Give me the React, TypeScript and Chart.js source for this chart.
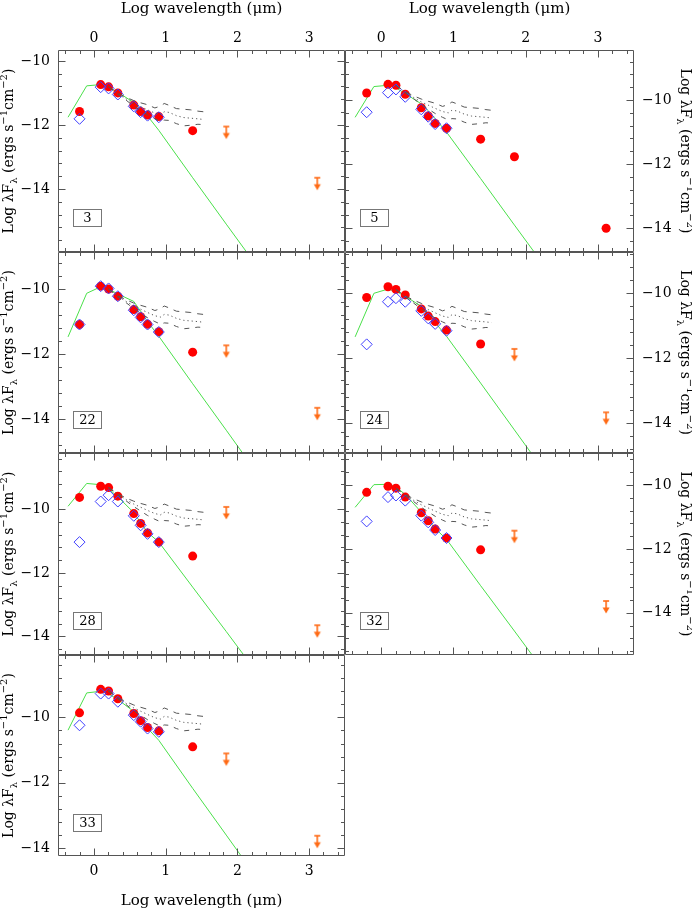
import React, { useEffect, useRef } from "react";
import { Chart, registerables } from "chart.js";

Chart.register(...registerables);

const FIG_W = 692;
const FIG_H = 909;
const SERIF = "'DejaVu Serif', 'Liberation Serif', serif";
const ORANGE = "#ff6a14";

// ---- axis tick labels ----
const X_TICKS = [0, 1, 2, 3];
const Y_TICKS = [-14, -12, -10];

// ---- wavelengths (log micron) ----
const BAND_X = [-0.2, 0.095, 0.205, 0.334, 0.556, 0.652, 0.748, 0.905, 1.377];
const DIAMOND_X = [-0.2, 0.095, 0.205, 0.334, 0.556, 0.652, 0.748, 0.905];
const FAR_X = [1.845, 3.114];
const MODEL_X = [-0.36, -0.1, 0.095, 0.205, 0.334, 0.556, 0.652, 0.748, 0.905, 1.377, 1.845, 3.114];

// ---- Taurus median SED and quartiles (relative to H-band normalisation) ----
const TAURUS_X = [0.205, 0.334, 0.45, 0.556, 0.652, 0.748, 0.85, 0.93, 0.98, 1.05, 1.15, 1.25, 1.35, 1.45, 1.53];
const TAURUS_UPPER = [0, -0.2, -0.33, -0.43, -0.5, -0.56, -0.66, -0.6, -0.52, -0.58, -0.68, -0.7, -0.72, -0.76, -0.78];
const TAURUS_MEDIAN = [0, -0.22, -0.38, -0.52, -0.62, -0.72, -0.82, -0.86, -0.78, -0.8, -0.9, -0.96, -0.98, -1.0, -1.02];
const TAURUS_LOWER = [0, -0.24, -0.42, -0.6, -0.74, -0.88, -1.0, -1.08, -1.04, -1.05, -1.15, -1.22, -1.2, -1.17, -1.18];

// ---- panel 3 ----
const P3_RED = [-11.58, -10.74, -10.81, -11.0, -11.38, -11.58, -11.69, -11.74, -12.18];
const P3_BLUE = [-11.81, -10.82, -10.86, -11.05, -11.42, -11.6, -11.71, -11.76];
const P3_LIMIT = [-12.05, -13.65];
const P3_MODEL = [-11.76, -10.78, -10.74, -10.82, -10.98, -11.3, -11.5, -11.72, -12.17, -13.65, -15.1, -19.0];
const P3_NORM = -10.81;

// ---- panel 5 ----
const P5_RED = [-9.78, -9.51, -9.54, -9.82, -10.24, -10.5, -10.73, -10.88, -11.22];
const P5_BLUE = [-10.38, -9.77, -9.67, -9.9, -10.29, -10.52, -10.75, -10.88];
const P5_FAR = [-11.77, -14.0];
const P5_MODEL = [-10.54, -9.58, -9.54, -9.62, -9.8, -10.12, -10.33, -10.58, -11.0, -12.45, -13.9, -17.8];
const P5_NORM = -9.54;

// ---- panel 22 ----
const P22_RED = [-11.09, -9.91, -10.0, -10.22, -10.63, -10.85, -11.08, -11.31, -11.94];
const P22_BLUE = [-11.09, -9.91, -9.98, -10.22, -10.65, -10.87, -11.09, -11.32];
const P22_LIMIT = [-11.73, -13.65];
const P22_MODEL = [-11.47, -10.13, -9.93, -10.0, -10.15, -10.38, -10.68, -11.0, -11.45, -12.91, -14.34, -18.24];
const P22_NORM = -10.0;

// ---- panel 24 ----
const P24_RED = [-10.13, -9.8, -9.88, -10.05, -10.48, -10.7, -10.87, -11.13, -11.56];
const P24_BLUE = [-11.57, -10.26, -10.15, -10.26, -10.54, -10.77, -10.94, -11.15];
const P24_LIMIT = [-11.71, -13.66];
const P24_MODEL = [-11.34, -10.0, -9.87, -9.94, -10.09, -10.4, -10.62, -10.9, -11.32, -12.76, -14.2, -18.1];
const P24_NORM = -9.88;

// ---- panel 28 ----
const P28_RED = [-9.62, -9.27, -9.31, -9.58, -10.13, -10.44, -10.74, -11.03, -11.47];
const P28_BLUE = [-11.03, -9.75, -9.55, -9.75, -10.2, -10.5, -10.77, -11.03];
const P28_LIMIT = [-9.92, -13.65];
const P28_MODEL = [-9.9, -9.18, -9.22, -9.35, -9.6, -10.1, -10.42, -10.72, -11.03, -12.45, -13.85, -17.7];
const P28_NORM = -9.31;

// ---- panel 32 ----
const P32_RED = [-10.23, -10.04, -10.1, -10.38, -10.87, -11.12, -11.38, -11.66, -12.03];
const P32_BLUE = [-11.14, -10.38, -10.33, -10.49, -10.96, -11.17, -11.41, -11.66];
const P32_LIMIT = [-11.43, -13.63];
const P32_MODEL = [-10.7, -9.99, -9.98, -10.06, -10.3, -10.85, -11.1, -11.36, -11.7, -13.15, -14.57, -18.45];
const P32_NORM = -10.1;

// ---- panel 33 ----
const P33_RED = [-9.86, -9.14, -9.19, -9.43, -9.88, -10.1, -10.31, -10.41, -10.9];
const P33_BLUE = [-10.24, -9.27, -9.27, -9.52, -9.93, -10.13, -10.34, -10.44];
const P33_LIMIT = [-11.1, -13.62];
const P33_MODEL = [-10.39, -9.25, -9.2, -9.28, -9.45, -9.82, -10.05, -10.33, -10.7, -12.17, -13.6, -17.5];
const P33_NORM = -9.19;

const X_TITLE = "Log wavelength (\u03bcm)";

type Spec = {
  label: string;
  col: number;
  row: number;
  yMin: number;
  yMax: number;
  red: number[];
  blue: number[];
  limits: number[] | null;
  far: number[] | null;
  model: number[];
  norm: number;
  bottomAxis: boolean;
};

const COL_X = [
  [58, 345],
  [345, 634],
];
const ROW_Y = [
  [50, 252],
  [252, 453],
  [453, 655],
  [655, 856],
];

const PANELS: Spec[] = [
  { label: "3", col: 0, row: 0, yMin: -15.97, yMax: -9.66, red: P3_RED, blue: P3_BLUE, limits: P3_LIMIT, far: null, model: P3_MODEL, norm: P3_NORM, bottomAxis: false },
  { label: "5", col: 1, row: 0, yMin: -14.74, yMax: -8.44, red: P5_RED, blue: P5_BLUE, limits: null, far: P5_FAR, model: P5_MODEL, norm: P5_NORM, bottomAxis: false },
  { label: "22", col: 0, row: 1, yMin: -15.04, yMax: -8.86, red: P22_RED, blue: P22_BLUE, limits: P22_LIMIT, far: null, model: P22_MODEL, norm: P22_NORM, bottomAxis: false },
  { label: "24", col: 1, row: 1, yMin: -14.91, yMax: -8.73, red: P24_RED, blue: P24_BLUE, limits: P24_LIMIT, far: null, model: P24_MODEL, norm: P24_NORM, bottomAxis: false },
  { label: "28", col: 0, row: 2, yMin: -14.59, yMax: -8.22, red: P28_RED, blue: P28_BLUE, limits: P28_LIMIT, far: null, model: P28_MODEL, norm: P28_NORM, bottomAxis: false },
  { label: "32", col: 1, row: 2, yMin: -15.32, yMax: -9.0, red: P32_RED, blue: P32_BLUE, limits: P32_LIMIT, far: null, model: P32_MODEL, norm: P32_NORM, bottomAxis: false },
  { label: "33", col: 0, row: 3, yMin: -14.24, yMax: -8.09, red: P33_RED, blue: P33_BLUE, limits: P33_LIMIT, far: null, model: P33_MODEL, norm: P33_NORM, bottomAxis: true },
];

const Y_TITLE_PARTS = [
  { t: "Log \u03bbF", s: 0 },
  { t: "\u03bb", s: -1 },
  { t: " (ergs s", s: 0 },
  { t: "\u22121", s: 1 },
  { t: "cm", s: 0 },
  { t: "\u22122", s: 1 },
  { t: ")", s: 0 },
];

function fmtTick(v: number): string {
  if (v < 0) return "\u2212" + String(Math.abs(v));
  return String(v);
}

function pts(xs: number[], ys: number[]) {
  return ys.map((y, i) => ({ x: xs[i], y }));
}

function makeArrow(): HTMLCanvasElement {
  const c = document.createElement("canvas");
  c.width = 10;
  c.height = 30;
  const g = c.getContext("2d")!;
  g.strokeStyle = ORANGE;
  g.fillStyle = ORANGE;
  g.lineWidth = 1.6;
  g.beginPath();
  g.moveTo(2, 15);
  g.lineTo(8, 15);
  g.stroke();
  g.beginPath();
  g.moveTo(5, 15);
  g.lineTo(5, 23);
  g.stroke();
  g.beginPath();
  g.moveTo(1.5, 21.5);
  g.lineTo(8.5, 21.5);
  g.lineTo(5, 27.5);
  g.closePath();
  g.fill();
  return c;
}

function drawRich(ctx: CanvasRenderingContext2D, cx: number, cy: number, angle: number, base: number, small: number) {
  ctx.save();
  ctx.translate(cx, cy);
  ctx.rotate(angle);
  let total = 0;
  const widths = Y_TITLE_PARTS.map((p) => {
    ctx.font = `${p.s ? small : base}px ${SERIF}`;
    const w = ctx.measureText(p.t).width;
    total += w;
    return w;
  });
  let x = -total / 2;
  ctx.textAlign = "left";
  ctx.textBaseline = "alphabetic";
  ctx.fillStyle = "#000";
  Y_TITLE_PARTS.forEach((p, i) => {
    ctx.font = `${p.s ? small : base}px ${SERIF}`;
    const dy = p.s === -1 ? 4 : p.s === 1 ? -6 : 0;
    ctx.fillText(p.t, x, dy);
    x += widths[i];
  });
  ctx.restore();
}

function Panel({ spec }: { spec: Spec }) {
  const ref = useRef<HTMLCanvasElement | null>(null);

  useEffect(() => {
    const canvas = ref.current;
    if (!canvas) return;
    const left = COL_X[spec.col][0];
    const right = COL_X[spec.col][1];
    const top = ROW_Y[spec.row][0];
    const bottom = ROW_Y[spec.row][1];
    const showLeft = spec.col === 0;
    const showRight = spec.col === 1;
    const showTop = spec.row === 0;
    const showBottom = spec.bottomAxis;

    const tickFont = { family: SERIF, size: 14 };

    const xAxis = (position: string, display: boolean, size: number, pad: number) => ({
      type: "linear",
      position,
      min: -0.5,
      max: 3.5,
      display,
      grid: { display: false, drawTicks: false },
      border: { display: false },
      afterBuildTicks: (s: any) => {
        s.ticks = X_TICKS.map((v) => ({ value: v }));
      },
      ticks: {
        autoSkip: false,
        maxRotation: 0,
        minRotation: 0,
        padding: pad,
        color: "#000",
        font: tickFont,
        callback: (v: any) => fmtTick(Number(v)),
      },
      afterFit: (s: any) => {
        if (display) s.height = size;
      },
    });

    const yAxis = (position: string, display: boolean, size: number) => ({
      type: "linear",
      position,
      min: spec.yMin,
      max: spec.yMax,
      display,
      grid: { display: false, drawTicks: false },
      border: { display: false },
      afterBuildTicks: (s: any) => {
        s.ticks = Y_TICKS.map((v) => ({ value: v }));
      },
      ticks: {
        autoSkip: false,
        padding: 8,
        color: "#000",
        font: tickFont,
        callback: (v: any) => fmtTick(Number(v)),
      },
      afterFit: (s: any) => {
        if (display) s.width = size;
      },
    });

    const arrow = makeArrow();

    const datasets: any[] = [
      {
        data: pts(TAURUS_X, TAURUS_UPPER.map((d) => spec.norm + d)),
        showLine: true,
        pointRadius: 0,
        borderColor: "#555",
        borderWidth: 1,
        borderDash: [6, 6],
        fill: false,
      },
      {
        data: pts(TAURUS_X, TAURUS_MEDIAN.map((d) => spec.norm + d)),
        showLine: true,
        pointRadius: 0,
        borderColor: "#555",
        borderWidth: 1,
        borderDash: [1.2, 3],
        fill: false,
      },
      {
        data: pts(TAURUS_X, TAURUS_LOWER.map((d) => spec.norm + d)),
        showLine: true,
        pointRadius: 0,
        borderColor: "#555",
        borderWidth: 1,
        borderDash: [5, 6],
        fill: false,
      },
      {
        data: pts(DIAMOND_X, spec.blue),
        showLine: false,
        pointStyle: "rectRot",
        pointRadius: 5.5,
        borderColor: "#3f3fff",
        backgroundColor: "rgba(255,255,255,0)",
        borderWidth: 1,
      },
      {
        data: pts(BAND_X, spec.red),
        showLine: false,
        pointStyle: "circle",
        pointRadius: 4.5,
        borderColor: "#ff0000",
        backgroundColor: "#ff0000",
        borderWidth: 0,
      },
    ];
    if (spec.far) {
      datasets.push({
        data: pts(FAR_X, spec.far),
        showLine: false,
        pointStyle: "circle",
        pointRadius: 4.5,
        borderColor: "#ff0000",
        backgroundColor: "#ff0000",
        borderWidth: 0,
      });
    }
    if (spec.limits) {
      datasets.push({
        data: pts(FAR_X, spec.limits),
        showLine: false,
        pointStyle: arrow,
        pointRadius: 5,
      });
    }
    datasets.push({
      data: pts(MODEL_X, spec.model),
      showLine: true,
      pointRadius: 0,
      borderColor: "#4ae04a",
      borderWidth: 1,
      tension: 0,
      fill: false,
    });

    const framePlugin = {
      id: "frame" + spec.label,
      afterDatasetsDraw(chart: any) {
        const ctx: CanvasRenderingContext2D = chart.ctx;
        const a = chart.chartArea;
        const xs = chart.scales.x;
        const ys = chart.scales.y;
        ctx.save();
        ctx.strokeStyle = "#555";
        ctx.lineWidth = 1;
        const L = Math.round(a.left) + 0.5;
        const R = Math.round(a.right) - 0.5;
        const T = Math.round(a.top) + 0.5;
        const B = Math.round(a.bottom) - 0.5;
        ctx.beginPath();
        ctx.rect(L, T, R - L, B - T);
        ctx.stroke();
        ctx.beginPath();
        for (let k = -2; k <= 17; k++) {
          const v = k * 0.2;
          const px = Math.round(xs.getPixelForValue(v)) + 0.5;
          const len = k % 5 === 0 ? 7 : 3.5;
          ctx.moveTo(px, T);
          ctx.lineTo(px, T + len);
          ctx.moveTo(px, B);
          ctx.lineTo(px, B - len);
        }
        const k0 = Math.ceil(spec.yMin / 0.4 - 1e-9);
        const k1 = Math.floor(spec.yMax / 0.4 + 1e-9);
        for (let k = k0; k <= k1; k++) {
          const v = k * 0.4;
          const py = Math.round(ys.getPixelForValue(v)) + 0.5;
          const len = k % 5 === 0 ? 7 : 3.5;
          ctx.moveTo(L, py);
          ctx.lineTo(L + len, py);
          ctx.moveTo(R, py);
          ctx.lineTo(R - len, py);
        }
        ctx.stroke();

        // panel number box
        const bx = Math.round(a.left) + 15.5;
        const by = Math.round(a.top) + 159.5;
        ctx.strokeStyle = "#777";
        ctx.strokeRect(bx, by, 28, 17);
        ctx.fillStyle = "#000";
        ctx.font = `13px ${SERIF}`;
        ctx.textAlign = "center";
        ctx.textBaseline = "middle";
        ctx.fillText(spec.label, bx + 14, by + 9);

        // titles
        const midY = (a.top + a.bottom) / 2;
        if (showLeft) drawRich(ctx, 12.5, midY, -Math.PI / 2, 14, 10);
        if (showRight) drawRich(ctx, 680.5, midY, Math.PI / 2, 14, 10);
        ctx.fillStyle = "#000";
        ctx.font = `15px ${SERIF}`;
        ctx.textAlign = "center";
        ctx.textBaseline = "alphabetic";
        const cx = (a.left + a.right) / 2;
        if (showTop) ctx.fillText(X_TITLE, cx, 13);
        if (showBottom) ctx.fillText(X_TITLE, cx, 905);
        ctx.restore();
      },
    };

    const chart = new Chart(canvas, {
      type: "scatter",
      data: { datasets },
      options: {
        responsive: false,
        animation: false,
        devicePixelRatio: 1,
        events: [],
        layout: {
          padding: {
            left: showLeft ? 0 : left,
            right: showRight ? 0 : FIG_W - right,
            top: showTop ? 0 : top,
            bottom: showBottom ? 0 : FIG_H - bottom,
          },
        },
        plugins: {
          legend: { display: false },
          tooltip: { enabled: false },
        },
        scales: {
          x: xAxis("bottom", showBottom, FIG_H - bottom, 7),
          x2: xAxis("top", showTop, top, 3),
          y: yAxis("left", showLeft, left),
          y2: yAxis("right", showRight, FIG_W - right),
        },
      } as any,
      plugins: [framePlugin],
    });
    return () => chart.destroy();
  }, [spec]);

  return (
    <canvas
      ref={ref}
      width={FIG_W}
      height={FIG_H}
      style={{ position: "absolute", left: 0, top: 0, width: FIG_W, height: FIG_H }}
    />
  );
}

export default function App() {
  return (
    <div
      style={{
        position: "fixed",
        left: 0,
        top: 0,
        width: FIG_W,
        height: FIG_H,
        background: "#fff",
        overflow: "hidden",
      }}
    >
      {PANELS.map((p) => (
        <Panel key={p.label} spec={p} />
      ))}
    </div>
  );
}
